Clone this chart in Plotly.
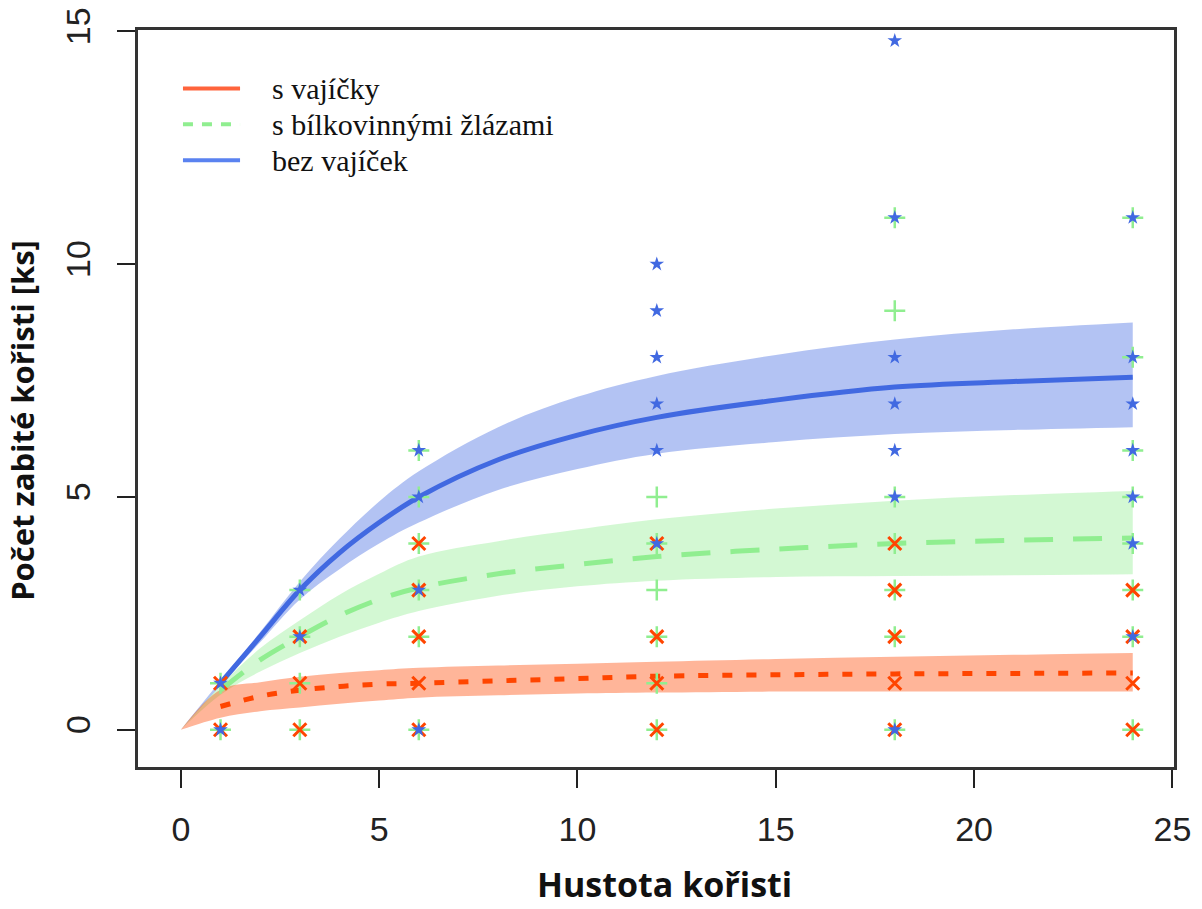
import plotly.graph_objects as go

# ---------------- data ----------------
# observations: prey density (x) vs. number of killed prey (y)
red_x = [1, 1, 3, 3, 3, 6, 6, 6, 6, 6, 12, 12, 12, 12, 18, 18, 18, 18, 18, 24, 24, 24, 24]
red_y = [0, 1, 0, 1, 2, 0, 1, 2, 3, 4, 0, 1, 2, 4, 0, 1, 2, 3, 4, 0, 1, 2, 3]

green_x = [1, 1, 3, 3, 3, 3, 6, 6, 6, 6, 6, 6, 12, 12, 12, 12, 12, 12,
           18, 18, 18, 18, 18, 18, 18, 24, 24, 24, 24, 24, 24, 24, 24]
green_y = [0, 1, 0, 1, 2, 3, 0, 2, 3, 4, 5, 6, 0, 1, 2, 3, 4, 5,
           0, 2, 3, 4, 5, 9, 11, 0, 2, 3, 4, 5, 6, 8, 11]

blue_x = [1, 1, 3, 3, 6, 6, 6, 6, 12, 12, 12, 12, 12, 12,
          18, 18, 18, 18, 18, 18, 18, 24, 24, 24, 24, 24, 24, 24]
blue_y = [0, 1, 2, 3, 0, 3, 5, 6, 4, 6, 7, 8, 9, 10,
          0, 5, 6, 7, 8, 11, 14.8, 2, 4, 5, 6, 7, 8, 11]

# fitted curves with confidence bands
fit_x = [0, 1, 2, 3, 4, 5, 6, 8, 10, 12, 15, 18, 21, 24]

red_fit = [0, 0.50, 0.72, 0.85, 0.93, 0.98, 1.00, 1.05, 1.10, 1.15, 1.18, 1.20, 1.21, 1.22]
red_lo = [0, 0.26, 0.40, 0.48, 0.56, 0.63, 0.69, 0.74, 0.78, 0.80, 0.82, 0.82, 0.82, 0.82]
red_hi = [0, 0.86, 1.02, 1.14, 1.22, 1.28, 1.33, 1.38, 1.42, 1.46, 1.52, 1.57, 1.61, 1.65]

green_fit = [0, 0.85, 1.50, 2.00, 2.45, 2.80, 3.05, 3.35, 3.55, 3.72, 3.88, 4.00, 4.07, 4.12]
green_lo = [0, 0.75, 1.25, 1.65, 2.00, 2.30, 2.55, 2.88, 3.08, 3.20, 3.28, 3.30, 3.32, 3.34]
green_hi = [0, 0.95, 1.75, 2.35, 2.90, 3.35, 3.72, 4.05, 4.30, 4.52, 4.75, 4.92, 5.04, 5.13]

blue_fit = [0, 1.00, 2.00, 3.00, 3.80, 4.45, 5.00, 5.80, 6.33, 6.71, 7.08, 7.36, 7.48, 7.57]
blue_lo = [0, 0.95, 1.88, 2.80, 3.45, 4.00, 4.45, 5.15, 5.60, 5.93, 6.18, 6.35, 6.44, 6.50]
blue_hi = [0, 1.05, 2.10, 3.18, 4.10, 4.90, 5.55, 6.50, 7.15, 7.60, 8.05, 8.38, 8.60, 8.75]

legend_labels = ["s vajíčky", "s bílkovinnými žlázami", "bez vajíček"]
x_ticks = [0, 5, 10, 15, 20, 25]
y_ticks = [0, 5, 10, 15]

# ---------------- styles ----------------
RED = "rgb(255,69,0)"
GREEN = "rgb(144,238,144)"
BLUE = "rgb(65,105,225)"
RED_BAND = "rgba(255,69,0,0.40)"
GREEN_BAND = "rgba(144,238,144,0.40)"
BLUE_BAND = "rgba(65,105,225,0.40)"
SMOOTH = 1.0

fig = go.Figure()


def add_band(lo, hi, color):
    fig.add_trace(go.Scatter(
        x=fit_x, y=lo, mode="lines",
        line=dict(width=0, shape="spline", smoothing=SMOOTH),
        hoverinfo="skip", showlegend=False))
    fig.add_trace(go.Scatter(
        x=fit_x, y=hi, mode="lines",
        line=dict(width=0, shape="spline", smoothing=SMOOTH),
        fill="tonexty", fillcolor=color, hoverinfo="skip", showlegend=False))


add_band(blue_lo, blue_hi, BLUE_BAND)
add_band(green_lo, green_hi, GREEN_BAND)
add_band(red_lo, red_hi, RED_BAND)

fig.add_trace(go.Scatter(x=fit_x[1:], y=blue_fit[1:], mode="lines",
                         line=dict(color=BLUE, width=5, shape="spline", smoothing=SMOOTH),
                         showlegend=False))
fig.add_trace(go.Scatter(x=fit_x[1:], y=green_fit[1:], mode="lines",
                         line=dict(color=GREEN, width=5, dash="29px,20px", shape="spline", smoothing=SMOOTH),
                         showlegend=False))
fig.add_trace(go.Scatter(x=fit_x[1:], y=red_fit[1:], mode="lines",
                         line=dict(color=RED, width=5, dash="10px,14px", shape="spline", smoothing=SMOOTH),
                         showlegend=False))

fig.add_trace(go.Scatter(x=green_x, y=green_y, mode="markers",
                         marker=dict(symbol="cross-thin-open", size=15, color=GREEN,
                                     line=dict(color=GREEN, width=2.5)),
                         showlegend=False))
fig.add_trace(go.Scatter(x=red_x, y=red_y, mode="markers",
                         marker=dict(symbol="x-thin-open", size=13, color=RED,
                                     line=dict(color=RED, width=3)),
                         showlegend=False))
fig.add_trace(go.Scatter(x=blue_x, y=blue_y, mode="markers",
                         marker=dict(symbol="star", size=11, color=BLUE,
                                     line=dict(width=0)),
                         showlegend=False))

# ---------------- manual legend (R style, no box) ----------------
leg_rows = [0.9207, 0.872, 0.8232]
leg_styles = [dict(color="rgb(255,100,60)", width=4, dash="solid"),
              dict(color=GREEN, width=4, dash="10px,9px"),
              dict(color="rgb(90,130,240)", width=4, dash="solid")]
for lab, yy, st in zip(legend_labels, leg_rows, leg_styles):
    fig.add_shape(type="line", xref="paper", yref="paper",
                  x0=0.0434, x1=0.0985, y0=yy, y1=yy, line=st)
    fig.add_annotation(text=lab, xref="paper", yref="paper", x=0.1274, y=yy,
                       xanchor="left", yanchor="middle", showarrow=False,
                       font=dict(family="Liberation Serif", size=30, color="#111"))

# axis titles
fig.add_annotation(text="<b>Hustota kořisti</b>", xref="paper", yref="paper",
                   x=0.508, y=-0.159, xanchor="center", yanchor="middle",
                   showarrow=False, font=dict(family="Open Sans", size=34, color="#111"))
fig.add_annotation(text="<b>Počet zabité kořisti [ks]</b>", xref="paper", yref="paper",
                   x=-0.112, y=0.471, xanchor="center", yanchor="middle", textangle=-90,
                   showarrow=False, font=dict(family="Open Sans", size=31, color="#111"))

axis_common = dict(showgrid=False, zeroline=False, showline=True, mirror=True,
                   automargin=False,
                   linecolor="#333", linewidth=2.5, ticks="outside", ticklen=18,
                   tickwidth=2, tickcolor="#222",
                   tickfont=dict(family="Liberation Sans", size=34, color="#222"))

fig.update_layout(
    width=1202, height=909,
    margin=dict(l=138, r=28, t=30, b=142),
    plot_bgcolor="white", paper_bgcolor="white",
    showlegend=False,
    xaxis=dict(range=[-1.08, 25.04], tickvals=x_ticks, ticklabelstandoff=12, **axis_common),
    yaxis=dict(range=[-0.80, 15.03], tickvals=y_ticks, tickangle=-90,
               ticklabelstandoff=14, **axis_common),
)

fig.write_html("out.html")
